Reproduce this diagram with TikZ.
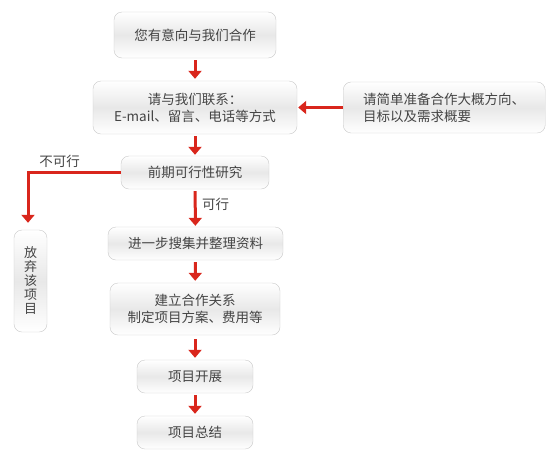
\documentclass[tikz,border=0pt]{standalone}
\usepackage{fontspec}
\setmainfont{Noto Sans CJK SC}
\usepackage{tikz}
\usetikzlibrary{arrows.meta,positioning,calc}
\usepackage{xcolor}
\definecolor{flowred}{HTML}{D9261C}
\definecolor{boxline}{HTML}{C9C9C9}
\definecolor{boxtext}{HTML}{444444}

\begin{document}
\begin{tikzpicture}[x=1pt,y=-1pt,
    stepbox/.style={draw=boxline, rounded corners=8pt, top color=white, bottom color=white,
      middle color=black!9, text=boxtext, font=\fontsize{13.5}{17}\selectfont,
      align=center, inner sep=0pt},
    flow/.style={draw=flowred, line width=3pt, -{Triangle[width=13pt,length=8pt]}},
    lbl/.style={text=boxtext, font=\fontsize{13.5}{15}\selectfont}]
  \useasboundingbox (0,0) rectangle (554,464);
  % boxes of the main column
  \node[stepbox, minimum width=162pt, minimum height=46pt] (intent) at (195,35) {您有意向与我们合作};
  \node[stepbox, minimum width=204pt, minimum height=53pt] (contact) at (195,107.5) {请与我们联系：\\E-mail、留言、电话等方式};
  \node[stepbox, minimum width=148pt, minimum height=33pt] (study) at (195,172.5) {前期可行性研究};
  \node[stepbox, minimum width=175pt, minimum height=33pt] (collect) at (195.5,243.5) {进一步搜集并整理资料};
  \node[stepbox, minimum width=170pt, minimum height=52pt] (plan) at (195,309) {建立合作关系\\制定项目方案、费用等};
  \node[stepbox, minimum width=116pt, minimum height=33pt] (launch) at (195,376.5) {项目开展};
  \node[stepbox, minimum width=116pt, minimum height=33pt] (summary) at (195,432.5) {项目总结};
  % side boxes
  \node[stepbox, minimum width=33pt, minimum height=102pt, font=\fontsize{13}{14}\selectfont] (drop) at (30.5,281) {放\\弃\\该\\项\\目};
  \node[stepbox, minimum width=202pt, minimum height=51pt, align=left, anchor=west, inner xsep=17pt] (prepare) at (343,107.5) {请简单准备合作大概方向、\\目标以及需求概要};
  % connectors
  \draw[flow, shorten >=2pt, shorten <=2pt] (intent) -- (contact);
  \draw[flow, shorten >=1pt, shorten <=2pt] (contact) -- (study);
  \draw[flow, shorten >=1pt, shorten <=2pt] (study) -- node[lbl, right, pos=0.4, xshift=2pt] {可行} (collect);
  \draw[flow, shorten >=2pt, shorten <=2pt] (collect) -- (plan);
  \draw[flow, shorten >=2pt, shorten <=4pt] (plan) -- (launch);
  \draw[flow, shorten >=2pt, shorten <=2pt] (launch) -- (summary);
  \draw[flow, shorten >=1pt] (prepare) -- (contact);
  \draw[flow, shorten >=7pt] (study.west) -| node[lbl, above, pos=0.33] {不可行} ($(drop.north)+(-2.5,0)$);
\end{tikzpicture}
\end{document}
